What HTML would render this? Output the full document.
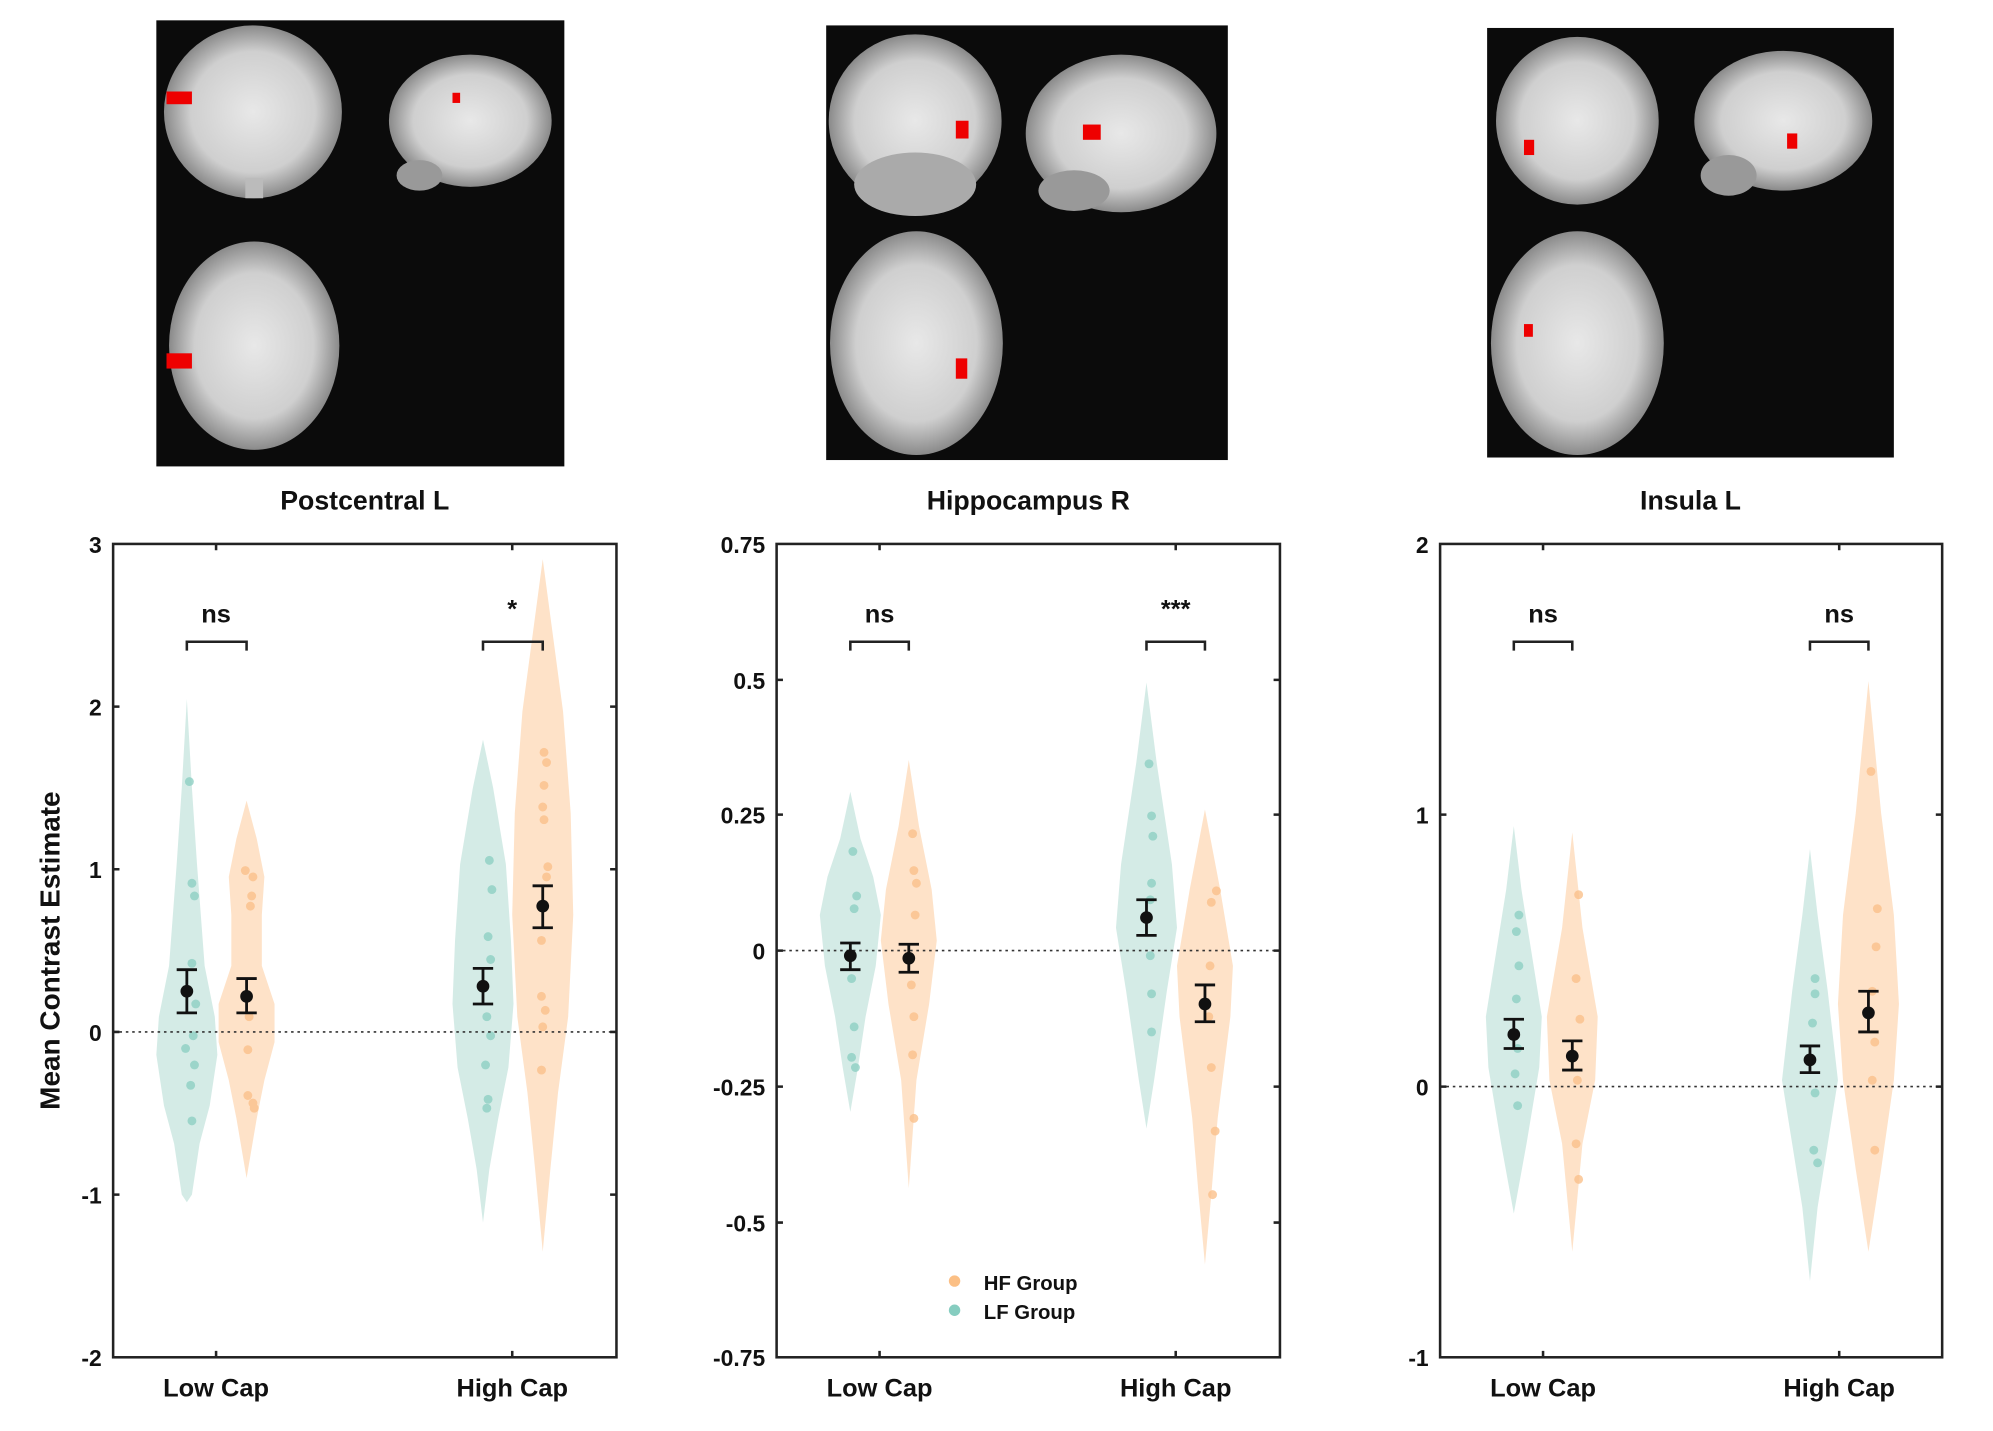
<!DOCTYPE html>
<html><head><meta charset="utf-8"><style>
html,body{margin:0;padding:0;background:#fff}
svg{display:block}
text{font-family:"Liberation Sans",sans-serif;font-weight:bold;fill:#111}
</style></head><body>
<svg width="1993" height="1431" viewBox="0 0 1568 1126" preserveAspectRatio="none" xmlns="http://www.w3.org/2000/svg">
<defs>
<radialGradient id="br" cx="50%" cy="50%" r="50%"><stop offset="0" stop-color="#e8e8e8"/><stop offset="0.7" stop-color="#cfcfcf"/><stop offset="1" stop-color="#8a8a8a"/></radialGradient>
</defs>
<rect x="123" y="16" width="321" height="351" fill="#0b0b0b"/>
<ellipse cx="199" cy="88" rx="70" ry="68" fill="url(#br)"/><rect x="193" y="140" width="14" height="16" fill="#bbb"/>
<ellipse cx="370" cy="95" rx="64" ry="52" fill="url(#br)"/><ellipse cx="330" cy="138" rx="18" ry="12" fill="#999"/>
<ellipse cx="200" cy="272" rx="67" ry="82" fill="url(#br)"/>
<rect x="131" y="72" width="20" height="10" fill="#e00"/><rect x="356" y="73" width="6" height="8" fill="#e00"/><rect x="131" y="278" width="20" height="12" fill="#e00"/>
<rect x="650" y="20" width="316" height="342" fill="#0b0b0b"/>
<ellipse cx="720" cy="95" rx="68" ry="68" fill="url(#br)"/><ellipse cx="720" cy="145" rx="48" ry="25" fill="#aaa"/>
<ellipse cx="882" cy="105" rx="75" ry="62" fill="url(#br)"/><ellipse cx="845" cy="150" rx="28" ry="16" fill="#999"/>
<ellipse cx="721" cy="270" rx="68" ry="88" fill="url(#br)"/>
<rect x="752" y="95" width="10" height="14" fill="#e00"/><rect x="852" y="98" width="14" height="12" fill="#e00"/><rect x="752" y="282" width="9" height="16" fill="#e00"/>
<rect x="1170" y="22" width="320" height="338" fill="#0b0b0b"/>
<ellipse cx="1241" cy="95" rx="64" ry="66" fill="url(#br)"/>
<ellipse cx="1403" cy="95" rx="70" ry="55" fill="url(#br)"/><ellipse cx="1360" cy="138" rx="22" ry="16" fill="#999"/>
<ellipse cx="1241" cy="270" rx="68" ry="88" fill="url(#br)"/>
<rect x="1199" y="110" width="8" height="12" fill="#e00"/><rect x="1406" y="105" width="8" height="12" fill="#e00"/><rect x="1199" y="255" width="7" height="10" fill="#e00"/>

<text x="287" y="401" font-size="21" text-anchor="middle">Postcentral L</text>
<text x="809" y="401" font-size="21" text-anchor="middle">Hippocampus R</text>
<text x="1330" y="401" font-size="21" text-anchor="middle">Insula L</text>

<g fill="#b7ddd5" fill-opacity="0.6" stroke="none">
<polygon points="147,550 151,620 155,680 161,760 169,800 171,830 165,870 157,900 151,940 147,946 143,940 137,900 129,870 123,830 125,800 133,760 139,680 143,620"/>
<polygon points="380,582 388,620 398,680 402,740 404,790 400,840 392,880 385,920 380,962 375,920 368,880 360,840 356,790 358,740 362,680 372,620"/>
<polygon points="669,623 677,660 687,690 693,720 689,760 681,800 675,840 669,875 663,840 657,800 649,760 645,720 651,690 661,660"/>
<polygon points="902,537 910,600 922,680 926,730 918,780 908,850 902,888 896,850 886,780 878,730 882,680 894,600"/>
<polygon points="1191,650 1197,700 1205,750 1213,800 1211,840 1201,900 1191,955 1181,900 1171,840 1169,800 1177,750 1185,700"/>
<polygon points="1424,668 1430,720 1438,780 1446,850 1438,900 1430,950 1424,1008 1418,950 1410,900 1402,850 1410,780 1418,720"/>
</g>
<g fill="#fdd3aa" fill-opacity="0.65" stroke="none">
<polygon points="194,630 202,660 208,690 206,720 206,760 216,790 216,820 208,850 202,880 194,927 186,880 180,850 172,820 172,790 182,760 182,720 180,690 186,660"/>
<polygon points="427,440 435,500 443,560 449,640 451,720 447,800 439,860 433,920 427,985 421,920 415,860 407,800 403,720 405,640 411,560 419,500"/>
<polygon points="715,598 723,650 733,700 737,740 731,790 721,850 715,935 709,850 699,790 693,740 697,700 707,650"/>
<polygon points="948,637 960,700 970,760 968,800 958,880 953,940 948,995 943,940 938,880 928,800 926,760 936,700"/>
<polygon points="1237,655 1245,730 1257,800 1255,850 1245,900 1237,985 1229,900 1219,850 1217,800 1229,730"/>
<polygon points="1470,536 1480,640 1490,720 1494,790 1490,850 1480,920 1470,985 1460,920 1450,850 1446,790 1450,720 1460,640"/>
</g>
<g fill="#8fd0c4" opacity="0.8">
<circle cx="149" cy="615" r="3.5"/><circle cx="151" cy="695" r="3.5"/><circle cx="153" cy="705" r="3.5"/><circle cx="151" cy="758" r="3.5"/><circle cx="154" cy="790" r="3.5"/><circle cx="152" cy="815" r="3.5"/><circle cx="146" cy="825" r="3.5"/><circle cx="153" cy="838" r="3.5"/><circle cx="150" cy="854" r="3.5"/><circle cx="151" cy="882" r="3.5"/>
<circle cx="385" cy="677" r="3.5"/><circle cx="387" cy="700" r="3.5"/><circle cx="384" cy="737" r="3.5"/><circle cx="386" cy="755" r="3.5"/><circle cx="383" cy="800" r="3.5"/><circle cx="386" cy="815" r="3.5"/><circle cx="382" cy="838" r="3.5"/><circle cx="384" cy="865" r="3.5"/><circle cx="383" cy="872" r="3.5"/>
<circle cx="671" cy="670" r="3.5"/><circle cx="674" cy="705" r="3.5"/><circle cx="672" cy="715" r="3.5"/><circle cx="670" cy="770" r="3.5"/><circle cx="672" cy="808" r="3.5"/><circle cx="670" cy="832" r="3.5"/><circle cx="673" cy="840" r="3.5"/>
<circle cx="904" cy="601" r="3.5"/><circle cx="906" cy="642" r="3.5"/><circle cx="907" cy="658" r="3.5"/><circle cx="906" cy="695" r="3.5"/><circle cx="905" cy="708" r="3.5"/><circle cx="905" cy="752" r="3.5"/><circle cx="906" cy="782" r="3.5"/><circle cx="906" cy="812" r="3.5"/>
<circle cx="1195" cy="720" r="3.5"/><circle cx="1193" cy="733" r="3.5"/><circle cx="1195" cy="760" r="3.5"/><circle cx="1193" cy="786" r="3.5"/><circle cx="1194" cy="825" r="3.5"/><circle cx="1192" cy="845" r="3.5"/><circle cx="1194" cy="870" r="3.5"/>
<circle cx="1428" cy="770" r="3.5"/><circle cx="1428" cy="782" r="3.5"/><circle cx="1426" cy="805" r="3.5"/><circle cx="1428" cy="860" r="3.5"/><circle cx="1427" cy="905" r="3.5"/><circle cx="1430" cy="915" r="3.5"/>
</g>
<g fill="#fbc18b" opacity="0.8">
<circle cx="193" cy="685" r="3.5"/><circle cx="199" cy="690" r="3.5"/><circle cx="198" cy="705" r="3.5"/><circle cx="197" cy="713" r="3.5"/><circle cx="196" cy="800" r="3.5"/><circle cx="195" cy="826" r="3.5"/><circle cx="195" cy="862" r="3.5"/><circle cx="199" cy="868" r="3.5"/><circle cx="200" cy="872" r="3.5"/>
<circle cx="428" cy="592" r="3.5"/><circle cx="430" cy="600" r="3.5"/><circle cx="428" cy="618" r="3.5"/><circle cx="427" cy="635" r="3.5"/><circle cx="428" cy="645" r="3.5"/><circle cx="431" cy="682" r="3.5"/><circle cx="430" cy="690" r="3.5"/><circle cx="426" cy="740" r="3.5"/><circle cx="426" cy="784" r="3.5"/><circle cx="429" cy="795" r="3.5"/><circle cx="427" cy="808" r="3.5"/><circle cx="426" cy="842" r="3.5"/>
<circle cx="718" cy="656" r="3.5"/><circle cx="719" cy="685" r="3.5"/><circle cx="721" cy="695" r="3.5"/><circle cx="720" cy="720" r="3.5"/><circle cx="717" cy="775" r="3.5"/><circle cx="719" cy="800" r="3.5"/><circle cx="718" cy="830" r="3.5"/><circle cx="719" cy="880" r="3.5"/>
<circle cx="957" cy="701" r="3.5"/><circle cx="953" cy="710" r="3.5"/><circle cx="952" cy="760" r="3.5"/><circle cx="951" cy="800" r="3.5"/><circle cx="953" cy="840" r="3.5"/><circle cx="956" cy="890" r="3.5"/><circle cx="954" cy="940" r="3.5"/>
<circle cx="1242" cy="704" r="3.5"/><circle cx="1240" cy="770" r="3.5"/><circle cx="1243" cy="802" r="3.5"/><circle cx="1241" cy="850" r="3.5"/><circle cx="1240" cy="900" r="3.5"/><circle cx="1242" cy="928" r="3.5"/>
<circle cx="1472" cy="607" r="3.5"/><circle cx="1477" cy="715" r="3.5"/><circle cx="1476" cy="745" r="3.5"/><circle cx="1473" cy="780" r="3.5"/><circle cx="1475" cy="820" r="3.5"/><circle cx="1473" cy="850" r="3.5"/><circle cx="1475" cy="905" r="3.5"/>
</g>

<g stroke="#333" stroke-width="1.3" stroke-dasharray="2,3">
<line x1="89" y1="812" x2="485" y2="812"/><line x1="611" y1="748" x2="1007" y2="748"/><line x1="1133" y1="855" x2="1528" y2="855"/>
</g>

<g fill="none" stroke="#222" stroke-width="2">
<rect x="89" y="428" width="396" height="640"/>
<rect x="611" y="428" width="396" height="640"/>
<rect x="1133" y="428" width="395" height="640"/>
<path d="M89 556h5M89 684h5M89 812h5M89 940h5M485 556h-5M485 684h-5M485 812h-5M485 940h-5M170 428v5M403 428v5M170 1068v-5M403 1068v-5"/>
<path d="M611 535h5M611 641h5M611 748h5M611 855h5M611 962h5M1007 535h-5M1007 641h-5M1007 748h-5M1007 855h-5M1007 962h-5M692 428v5M925 428v5M692 1068v-5M925 1068v-5"/>
<path d="M1133 641h5M1133 855h5M1528 641h-5M1528 855h-5M1214 428v5M1447 428v5M1214 1068v-5M1447 1068v-5"/>
<path d="M147 512v-7h47v7M380 512v-7h47v7M669 512v-7h46v7M902 512v-7h46v7M1191 512v-7h46v7M1424 512v-7h46v7"/>
</g>
<g stroke="#111" stroke-width="2.2" fill="none">
<path d="M147 763v34M139 763h16M139 797h16"/>
<path d="M194 770v27M186 770h16M186 797h16"/>
<path d="M380 762v28M372 762h16M372 790h16"/>
<path d="M427 697v33M419 697h16M419 730h16"/>
<path d="M669 742v21M661 742h16M661 763h16"/>
<path d="M715 743v22M707 743h16M707 765h16"/>
<path d="M902 708v28M894 708h16M894 736h16"/>
<path d="M948 775v29M940 775h16M940 804h16"/>
<path d="M1191 802v23M1183 802h16M1183 825h16"/>
<path d="M1237 819v23M1229 819h16M1229 842h16"/>
<path d="M1424 823v21M1416 823h16M1416 844h16"/>
<path d="M1470 780v32M1462 780h16M1462 812h16"/>
</g>
<g fill="#111">
<circle cx="147" cy="780" r="5"/><circle cx="194" cy="784" r="5"/><circle cx="380" cy="776" r="5"/><circle cx="427" cy="713" r="5"/>
<circle cx="669" cy="752" r="5"/><circle cx="715" cy="754" r="5"/><circle cx="902" cy="722" r="5"/><circle cx="948" cy="790" r="5"/>
<circle cx="1191" cy="814" r="5"/><circle cx="1237" cy="831" r="5"/><circle cx="1424" cy="834" r="5"/><circle cx="1470" cy="797" r="5"/>
</g>
<g font-size="20" text-anchor="middle">
<text x="170" y="490">ns</text><text x="403" y="486">*</text>
<text x="692" y="490">ns</text><text x="925" y="486">***</text>
<text x="1214" y="490">ns</text><text x="1447" y="490">ns</text>
</g>
<g font-size="18" text-anchor="end">
<text x="80" y="435">3</text><text x="80" y="563">2</text><text x="80" y="691">1</text><text x="80" y="819">0</text><text x="80" y="947">-1</text><text x="80" y="1075">-2</text>
<text x="602" y="435">0.75</text><text x="602" y="542">0.5</text><text x="602" y="648">0.25</text><text x="602" y="755">0</text><text x="602" y="862">-0.25</text><text x="602" y="969">-0.5</text><text x="602" y="1075">-0.75</text>
<text x="1124" y="435">2</text><text x="1124" y="648">1</text><text x="1124" y="862">0</text><text x="1124" y="1075">-1</text>
</g>
<g font-size="20" text-anchor="middle">
<text x="170" y="1099">Low Cap</text><text x="403" y="1099">High Cap</text>
<text x="692" y="1099">Low Cap</text><text x="925" y="1099">High Cap</text>
<text x="1214" y="1099">Low Cap</text><text x="1447" y="1099">High Cap</text>
</g>
<text x="0" y="0" font-size="22" text-anchor="middle" transform="translate(47,748) rotate(-90)">Mean Contrast Estimate</text>
<circle cx="751" cy="1008" r="4.5" fill="#fbbf85"/><text x="774" y="1015" font-size="16">HF Group</text>
<circle cx="751" cy="1031" r="4.5" fill="#86cdc0"/><text x="774" y="1038" font-size="16">LF Group</text>
</svg>
</body></html>
